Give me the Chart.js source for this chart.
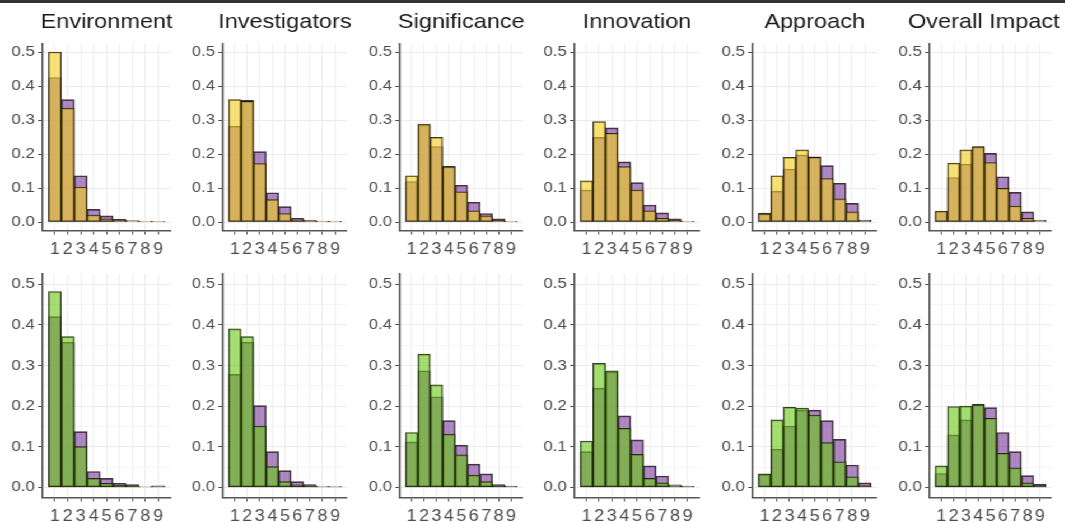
<!DOCTYPE html>
<html>
<head>
<meta charset="utf-8">
<script src="https://cdn.jsdelivr.net/npm/chart.js@4/dist/chart.umd.min.js"></script>
<style>
  html, body { margin: 0; padding: 0; background: #fff; overflow: hidden; }
  body { width: 1065px; height: 522px; position: relative; }
  #strip { position: absolute; left: 0; top: 0; width: 1065px; height: 3px; background: #333; }
  #wrap { position: absolute; left: 0; top: 0; height: 522px; transform-origin: 0 0; }
  #wrap canvas { position: absolute; }
</style>
</head>
<body>
<div id="wrap"></div>
<div id="strip"></div>
<script>
const criteria = ['Environment', 'Investigators', 'Significance', 'Innovation', 'Approach', 'Overall Impact'];
const scores = [1, 2, 3, 4, 5, 6, 7, 8, 9];
const yTicks = [0, 0.05, 0.1, 0.15, 0.2, 0.25, 0.3, 0.35, 0.4, 0.45, 0.5];

// top row, one line per criterion (share of scores 1..9)
const topYellow = [
  [0.500, 0.335, 0.103, 0.020, 0.009, 0.004, 0.002, 0.001, 0.001],
  [0.360, 0.355, 0.172, 0.066, 0.025, 0.006, 0.003, 0.001, 0.001],
  [0.136, 0.288, 0.249, 0.162, 0.089, 0.033, 0.018, 0.004, 0.001],
  [0.121, 0.295, 0.261, 0.163, 0.094, 0.033, 0.011, 0.004, 0.001],
  [0.024, 0.136, 0.190, 0.212, 0.190, 0.128, 0.068, 0.030, 0.003],
  [0.032, 0.173, 0.212, 0.221, 0.175, 0.099, 0.047, 0.011, 0.001]
];
const topPurple = [
  [0.425, 0.360, 0.136, 0.037, 0.018, 0.008, 0.004, 0.002, 0.001],
  [0.282, 0.358, 0.207, 0.086, 0.045, 0.011, 0.006, 0.003, 0.001],
  [0.119, 0.285, 0.222, 0.164, 0.108, 0.058, 0.025, 0.009, 0.002],
  [0.094, 0.249, 0.277, 0.177, 0.116, 0.050, 0.027, 0.009, 0.002],
  [0.026, 0.091, 0.156, 0.197, 0.192, 0.166, 0.114, 0.055, 0.006],
  [0.031, 0.131, 0.170, 0.222, 0.202, 0.133, 0.087, 0.030, 0.005]
];
// bottom row
const bottomGreen = [
  [0.482, 0.371, 0.100, 0.022, 0.010, 0.005, 0.004, 0.001, 0.002],
  [0.390, 0.371, 0.151, 0.051, 0.014, 0.006, 0.003, 0.001, 0.001],
  [0.135, 0.328, 0.252, 0.131, 0.080, 0.030, 0.014, 0.003, 0.001],
  [0.114, 0.305, 0.287, 0.145, 0.081, 0.022, 0.011, 0.002, 0.001],
  [0.033, 0.166, 0.197, 0.195, 0.178, 0.110, 0.063, 0.026, 0.003],
  [0.053, 0.199, 0.200, 0.203, 0.170, 0.084, 0.048, 0.011, 0.003]
];
const bottomPurple = [
  [0.420, 0.357, 0.137, 0.039, 0.022, 0.010, 0.007, 0.001, 0.004],
  [0.278, 0.357, 0.201, 0.088, 0.041, 0.014, 0.007, 0.002, 0.002],
  [0.112, 0.287, 0.223, 0.164, 0.104, 0.057, 0.033, 0.007, 0.003],
  [0.088, 0.244, 0.284, 0.176, 0.117, 0.053, 0.028, 0.006, 0.003],
  [0.032, 0.094, 0.151, 0.190, 0.190, 0.164, 0.118, 0.055, 0.011],
  [0.034, 0.129, 0.166, 0.205, 0.196, 0.135, 0.088, 0.029, 0.008]
];

const yellowFill = 'rgba(244, 206, 30, 0.6)';
const greenFill = 'rgba(105, 200, 20, 0.6)';
const purpleFill = 'rgba(110, 45, 145, 0.56)';
const edge = 'rgba(25, 20, 15, 0.85)';
const FONT = "'Liberation Sans', Arial, sans-serif";

// the picture is stretched sideways, so everything is drawn narrower and scaled up
const K = 1.12;
const YW = 44, XH = 34;
const plotLeft = [42, 223, 400, 575, 753, 930];
const plotRight = [170, 347, 523, 700, 877, 1052];
// the last title sits a little left of its panel centre so it fits the page
const titleShift = [0, 0, 0, 0, 0, 12];
const rows = [
  { top: 0, height: 266, plotTop: 43.5, plotBottom: 230.5, titles: true, a: topYellow, b: topPurple, fillA: yellowFill },
  { top: 255, height: 277, plotTop: 274, plotBottom: 497.5, titles: false, a: bottomGreen, b: bottomPurple, fillA: greenFill }
];

const wrap = document.getElementById('wrap');
wrap.style.width = (1065 / K) + 'px';
wrap.style.transform = 'scaleX(' + K + ')';

const isMajor = v => Math.abs(v * 10 - Math.round(v * 10)) < 1e-6;

function barSet(values, fill) {
  return {
    data: scores.map((s, i) => ({ x: s, y: values[i] })),
    backgroundColor: fill,
    borderColor: edge,
    borderWidth: 1,
    borderSkipped: false,
    grouped: false,
    barPercentage: 1,
    categoryPercentage: 1
  };
}

rows.forEach(row => {
  criteria.forEach((name, c) => {
    const plotW = (plotRight[c] - plotLeft[c]) / K;
    const padW = YW - titleShift[c];
    const cw = Math.ceil(plotW + YW + padW + 4);
    const canvas = document.createElement('canvas');
    canvas.width = cw;
    canvas.height = row.height;
    canvas.style.left = (plotLeft[c] / K - YW) + 'px';
    canvas.style.top = row.top + 'px';
    wrap.appendChild(canvas);

    const padTop = row.titles ? 0 : row.plotTop - row.top;
    const padBottom = row.top + row.height - row.plotBottom - XH;

    new Chart(canvas, {
      type: 'bar',
      data: {
        datasets: [barSet(row.a[c], row.fillA), barSet(row.b[c], purpleFill)]
      },
      options: {
        responsive: false,
        animation: false,
        devicePixelRatio: 1,
        layout: { padding: { left: 0, right: cw - YW - padW - plotW, top: padTop, bottom: padBottom } },
        plugins: {
          legend: { display: false },
          tooltip: { enabled: false },
          title: {
            display: row.titles,
            text: name,
            color: '#1a1a1a',
            font: { family: FONT, size: 21, weight: 'normal' },
            padding: { top: 10, bottom: 8.3 }
          }
        },
        scales: {
          x: {
            type: 'linear',
            min: 0.05,
            max: 9.95,
            offset: false,
            afterBuildTicks: s => { s.ticks = scores.map(v => ({ value: v })); },
            afterFit: s => { s.height = XH; },
            ticks: {
              autoSkip: false,
              maxRotation: 0,
              minRotation: 0,
              padding: 5,
              color: '#4d4d4d',
              font: { family: FONT, size: 16 },
              callback: v => String(Math.round(v))
            },
            grid: {
              offset: false,
              color: '#eeeeee',
              tickColor: '#4d4d4d',
              tickLength: 4
            },
            border: { display: true, color: '#555', width: 1.6 }
          },
          y: {
            min: -0.025,
            max: 0.525,
            afterBuildTicks: s => { s.ticks = yTicks.map(v => ({ value: v })); },
            afterFit: s => { s.width = YW; },
            ticks: {
              padding: 3,
              color: '#4d4d4d',
              font: { family: FONT, size: 15 },
              callback: v => isMajor(v) ? v.toFixed(1) : ''
            },
            grid: {
              color: ctx => ctx.tick && isMajor(ctx.tick.value) ? '#ebebeb' : '#f5f5f5',
              tickColor: ctx => ctx.tick && isMajor(ctx.tick.value) ? '#4d4d4d' : 'rgba(0,0,0,0)',
              tickLength: 4
            },
            border: { display: true, color: '#555', width: 1.6 }
          },
          // empty twin on the right so the full-width title centres over the panel
          yPad: {
            position: 'right',
            afterFit: s => { s.width = padW; },
            ticks: { display: false },
            grid: { display: false },
            border: { display: false }
          }
        }
      }
    });
  });
});
</script>
</body>
</html>
